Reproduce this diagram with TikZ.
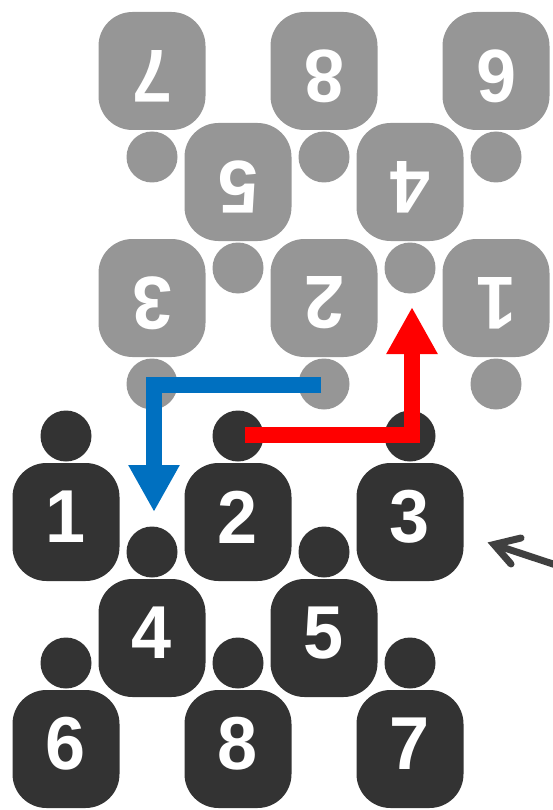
\documentclass[tikz,border=0pt]{standalone}
\usepackage{fontspec}
\setmainfont{Liberation Sans}
\newfontfamily\digitfont[FakeStretch=0.96]{Liberation Sans}
\usetikzlibrary{arrows.meta}
\definecolor{darkp}{HTML}{333333}
\definecolor{grayp}{HTML}{969696}
\definecolor{bluear}{HTML}{0070C0}
\definecolor{redar}{HTML}{FF0000}
\definecolor{notear}{HTML}{404040}
\tikzset{
  bodybox/.style={inner sep=0pt,minimum width=107pt,minimum height=118pt,rounded corners=34pt},
  headdot/.style={circle,inner sep=0pt,minimum size=51pt},
  digit/.style={inner sep=0pt,text=white,font=\fontsize{75}{75}\digitfont\bfseries},
  bigarrow/.style={line width=16pt,miter limit=10,-{Triangle[width=48pt,length=47pt]}},
}
% name, x, body centre y, digit
\newcommand{\darkperson}[4]{%
  \node[headdot,fill=darkp] (h#1) at (#2,#3-86) {};
  \node[bodybox,fill=darkp] (b#1) at (#2,#3) {};
  \node[digit] (t#1) at (#2,#3-5) {#4};
}
\newcommand{\grayperson}[4]{%
  \node[headdot,fill=grayp] (h#1) at (#2,#3+86) {};
  \node[bodybox,fill=grayp] (b#1) at (#2,#3) {};
  \node[digit,rotate=180] (t#1) at (#2,#3+5) {#4};
}
\begin{document}
\begin{tikzpicture}[x=1pt,y=-1pt]
\useasboundingbox (0,0) rectangle (552,810);
\grayperson{g7}{152}{71}{7}
\grayperson{g8}{324}{71}{8}
\grayperson{g6}{496}{71}{6}
\grayperson{g5}{238}{182}{5}
\grayperson{g4}{410}{182}{4}
\grayperson{g3}{152}{298}{3}
\grayperson{g2}{324}{298}{2}
\grayperson{g1}{496}{298}{1}
\darkperson{d1}{66}{522}{1}
\darkperson{d2}{238}{522}{2}
\darkperson{d3}{410}{522}{3}
\darkperson{d4}{152}{638}{4}
\darkperson{d5}{324}{638}{5}
\darkperson{d6}{66}{749}{6}
\darkperson{d8}{238}{749}{8}
\darkperson{d7}{410}{749}{7}
\coordinate (bs) at (321,385);
\coordinate (bc) at (154,385);
\coordinate (be) at (154,512);
\coordinate (rs) at (245,435);
\coordinate (rc) at (412,435);
\coordinate (re) at (412,307);
\coordinate (ntip) at (494,544.5);
\coordinate (nfree) at (556,565);
\coordinate (nb1) at (521,538);
\coordinate (nb2) at (511,564);
\draw[bigarrow,color=bluear] (bs) -- (bc) -- (be);
\draw[bigarrow,color=redar] (rs) -- (rc) -- (re);
\draw[notear,line width=7pt,line cap=round,line join=miter] (nb1) -- (ntip) -- (nb2);
\draw[notear,line width=7pt] (ntip) -- (nfree);
\end{tikzpicture}
\end{document}
